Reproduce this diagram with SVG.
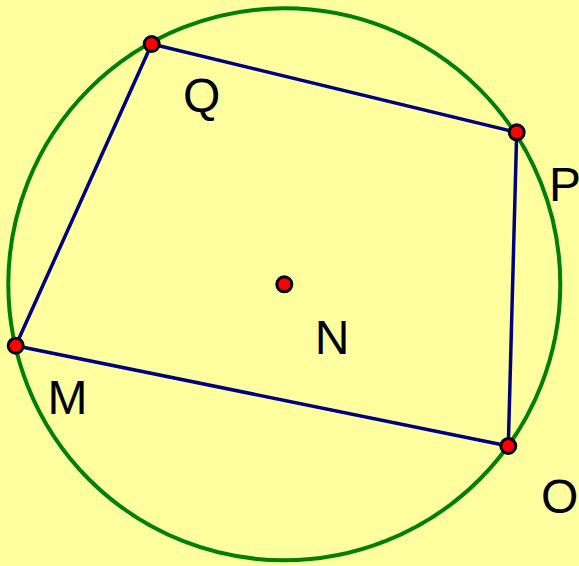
<svg xmlns="http://www.w3.org/2000/svg" width="579" height="566" viewBox="0 0 579 566">
<style>
.pt{fill:#ff0000;stroke:#000000;stroke-width:3}
.seg{stroke:#000080;stroke-width:3.5;fill:none;stroke-linecap:round}
.lbl{font-family:"Liberation Sans",Arial,sans-serif;font-size:48px;fill:#000000}
</style>
<rect width="579" height="566" fill="#ffffa0"/>
<g id="circle"><circle cx="284.3" cy="284.3" r="276" fill="none" stroke="#008000" stroke-width="4"/></g>
<g id="connectors">
<line class="seg" x1="151.7" y1="44" x2="516.7" y2="132.3"/>
<line class="seg" x1="516.7" y1="132.3" x2="508.3" y2="446"/>
<line class="seg" x1="508.3" y1="446" x2="15.7" y2="345.7"/>
<line class="seg" x1="15.7" y1="345.7" x2="151.7" y2="44"/>
</g>
<g id="Q"><circle class="pt" cx="151.7" cy="44" r="7.5"/><text class="lbl" x="183" y="112">Q</text></g>
<g id="P"><circle class="pt" cx="516.7" cy="132.3" r="7.5"/><text class="lbl" x="549" y="201">P</text></g>
<g id="O"><circle class="pt" cx="508.3" cy="446" r="7.5"/><text class="lbl" x="541" y="513">O</text></g>
<g id="M"><circle class="pt" cx="15.7" cy="345.7" r="7.5"/><text class="lbl" x="47.5" y="414">M</text></g>
<g id="N"><circle class="pt" cx="284.3" cy="284.3" r="7.5"/><text class="lbl" x="314.7" y="354">N</text></g>
</svg>
